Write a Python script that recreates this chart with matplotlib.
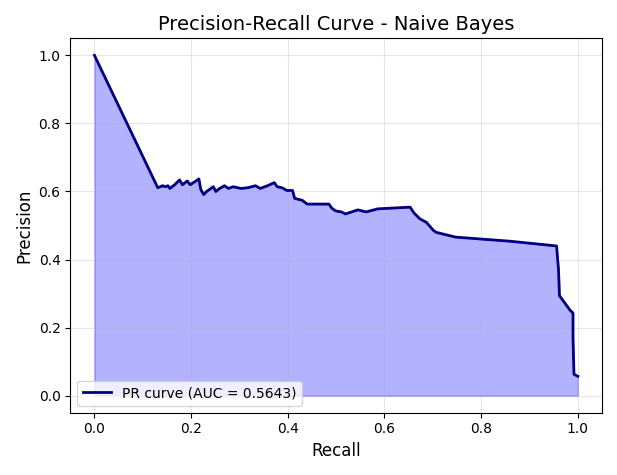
import numpy as np
import matplotlib.pyplot as plt

# points (pixel -> data)
px = [90, 155, 160, 163, 165, 167, 172, 177, 180, 185, 188, 193, 197, 199, 202, 205, 212, 214,
      218, 223, 227, 232, 240, 247, 255, 260, 267, 274, 277, 282, 287, 293, 295, 303, 308, 322,
      330, 333, 337, 343, 347, 360, 368, 380, 413, 417, 423, 430, 437, 440, 460, 515, 563, 565,
      566, 577, 580, 580, 581, 585]
py = [50, 186, 184, 185, 184, 187, 183, 178, 183, 179, 183, 180, 177, 188, 193, 190, 185, 190,
      187, 184, 187, 185, 187, 186, 184, 187, 184, 181, 185, 186, 189, 189, 197, 199, 203, 203,
      203, 207, 210, 211, 213, 209, 211, 208, 206, 212, 218, 222, 230, 232, 237, 241, 246, 270,
      297, 312, 315, 340, 378, 380]
recall = [round((p - 90) / 495, 3) for p in px]
precision = [round((400 - p) / 350, 3) for p in py]
auc_score = 0.5643

plt.figure(figsize=(6.17, 4.75), dpi=100)
plt.plot(recall, precision, color='navy', lw=2, label=f'PR curve (AUC = {auc_score:.4f})')
plt.fill_between(recall, precision, alpha=0.3, color='blue')
plt.xlabel('Recall', fontsize=12)
plt.ylabel('Precision', fontsize=12)
plt.title('Precision-Recall Curve - Naive Bayes', fontsize=14)
plt.legend(loc='lower left')
plt.grid(alpha=0.3)
plt.tight_layout()
plt.savefig('out.png')
